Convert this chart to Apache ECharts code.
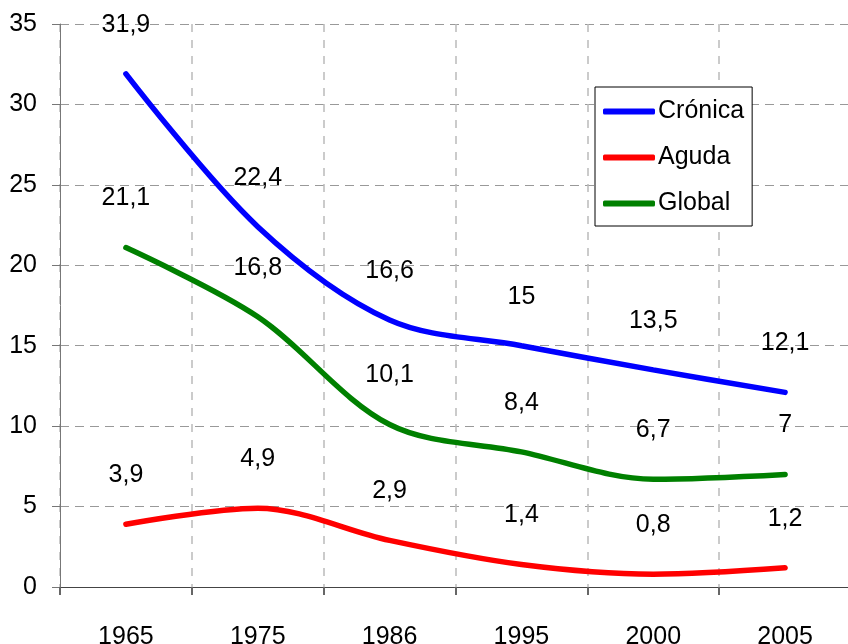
<!DOCTYPE html>
<html>
<head>
<meta charset="utf-8">
<script src="https://cdn.jsdelivr.net/npm/echarts@6/dist/echarts.min.js"></script>
<style>
html,body{margin:0;padding:0;background:#fff;}
#chart{width:848px;height:644px;}
</style>
</head>
<body>
<div id="chart"></div>
<script>
var years = ['1965', '1975', '1986', '1995', '2000', '2005'];
var cronica = [31.9, 22.4, 16.6, 15, 13.5, 12.1];
var aguda = [3.9, 4.9, 2.9, 1.4, 0.8, 1.2];
var global = [21.1, 16.8, 10.1, 8.4, 6.7, 7];

var numFont = "'Liberation Sans Narrow', 'Liberation Sans', Arial, sans-serif";

function makeSeries(name, data, color) {
    return {
        name: name,
        type: 'line',
        data: data,
        smooth: 0.33,
        symbol: 'circle',
        symbolSize: 1,
        showSymbol: true,
        lineStyle: { color: color, width: 5.5, cap: 'round' },
        itemStyle: { color: color },
        label: {
            show: true,
            position: 'top',
            distance: 36,
            color: '#000',
            fontFamily: numFont,
            fontSize: 25,
            formatter: function (p) {
                return String(p.value).replace('.', ',');
            }
        }
    };
}

var myChart = echarts.init(document.getElementById('chart'));
var option = {
    animation: false,
    backgroundColor: '#fff',
    grid: { left: 60, top: 24, width: 791, height: 563, containLabel: false, outerBoundsMode: 'none' },
    legend: {
        orient: 'vertical',
        left: 595,
        top: 87,
        width: 158,
        padding: [12, 8, 10, 8],
        backgroundColor: '#fff',
        borderColor: '#000',
        borderWidth: 1,
        itemWidth: 52,
        itemHeight: 6,
        itemGap: 21,
        icon: 'roundRect',
        textStyle: { fontFamily: "'Liberation Sans', Arial, sans-serif", fontSize: 25, color: '#000', padding: [0, 0, 0, -2] },
        data: ['Crónica', 'Aguda', 'Global']
    },
    xAxis: {
        type: 'category',
        data: years,
        boundaryGap: true,
        axisLine: { lineStyle: { color: '#444', width: 1 } },
        axisTick: { show: true, length: 8, alignWithLabel: false, lineStyle: { color: '#666', width: 2 } },
        axisLabel: { margin: 38, color: '#000', fontFamily: numFont, fontSize: 25 },
        splitLine: { show: true, lineStyle: { color: '#bbb', type: [8, 8], width: 1.5 } }
    },
    yAxis: {
        type: 'value',
        min: 0,
        max: 35,
        interval: 5,
        axisLine: { show: true, lineStyle: { color: '#777', width: 1 } },
        axisTick: { show: true, length: 8, lineStyle: { color: '#777' } },
        axisLabel: { margin: 23, color: '#000', fontFamily: numFont, fontSize: 25 },
        splitLine: { show: true, lineStyle: { color: '#999', type: [9, 6], width: 1 } }
    },
    series: [
        makeSeries('Crónica', cronica, '#0000ff'),
        makeSeries('Aguda', aguda, '#ff0000'),
        makeSeries('Global', global, '#008000')
    ]
};
myChart.setOption(option);
</script>
</body>
</html>
